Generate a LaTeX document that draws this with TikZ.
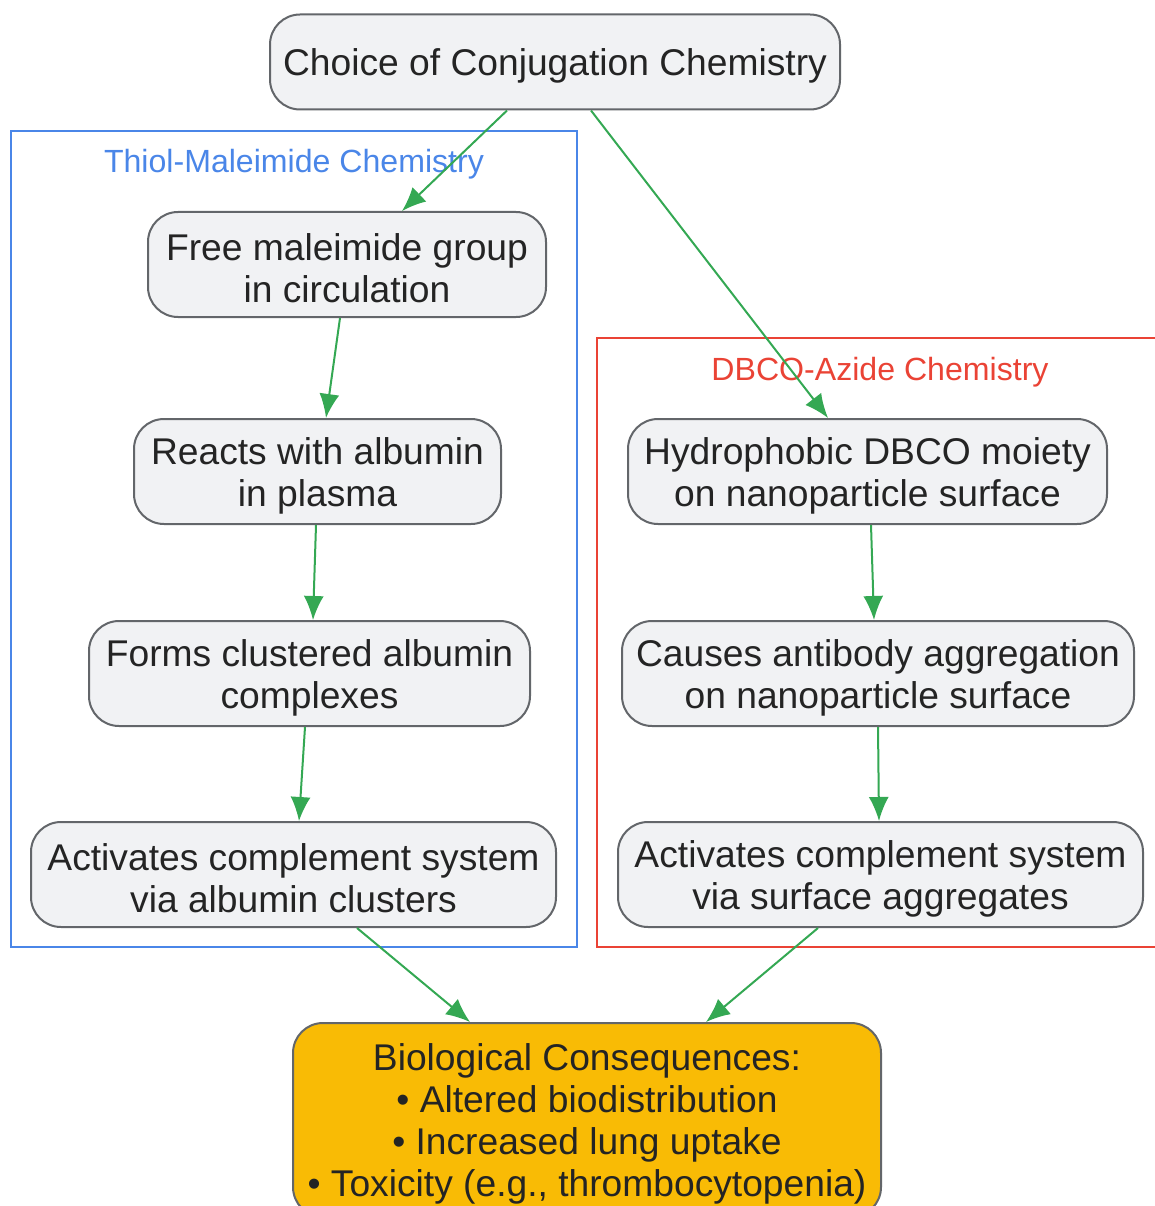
\documentclass[tikz,border=0pt]{standalone}
\usepackage{fontspec}
\setmainfont{Liberation Sans}
\usetikzlibrary{arrows.meta}
\definecolor{boxfill}{HTML}{F1F2F4}
\definecolor{boxborder}{HTML}{63666A}
\definecolor{txt}{HTML}{242424}
\definecolor{edge}{HTML}{34A853}
\definecolor{blueclu}{HTML}{4A86E8}
\definecolor{redclu}{HTML}{EA4335}
\definecolor{goldfill}{HTML}{F9BB05}
\newcommand\topstrut{\rule{0pt}{35pt}}
\tikzset{
  box/.style={draw=boxborder, fill=boxfill, rounded corners=30pt, line width=2pt,
    align=center, inner sep=0pt, text=txt,
    font=\fontsize{37.2}{42}\selectfont, minimum height=105pt},
  clu/.style={line width=2pt},
  clulabel/.style={font=\fontsize{32.1}{36}\selectfont, inner sep=0pt},
  link/.style={draw=edge, line width=2pt, -{Latex[length=24pt,width=20pt]}}
}
\begin{document}
\begin{tikzpicture}[x=1pt,y=-1pt]
\useasboundingbox (0,0) rectangle (1154,1206);
% clusters
\draw[clu, draw=blueclu] (11,131) rectangle (577,947);
\node[clulabel, text=blueclu] (lbl1) at (294,164) {Thiol-Maleimide Chemistry};
\draw[clu, draw=redclu] (597,338) rectangle (1170,947);
\node[clulabel, text=redclu] (lbl2) at (880,372) {DBCO-Azide Chemistry};
% nodes
\node[box, minimum width=570pt, minimum height=95pt] (top) at (555,62) {\topstrut Choice of Conjugation Chemistry};
\node[box, minimum width=398pt] (free) at (347,264.5) {\topstrut Free maleimide group\\in circulation};
\node[box, minimum width=367pt] (react) at (317.5,471.5) {\topstrut Reacts with albumin\\in plasma};
\node[box, minimum width=441pt] (forms) at (309.5,673.5) {\topstrut Forms clustered albumin\\complexes};
\node[box, minimum width=525pt] (actl) at (293.5,874.5) {\topstrut Activates complement system\\via albumin clusters};
\node[box, minimum width=479pt] (hydro) at (867.5,471.5) {\topstrut Hydrophobic DBCO moiety\\on nanoparticle surface};
\node[box, minimum width=512pt] (causes) at (878,673.5) {\topstrut Causes antibody aggregation\\on nanoparticle surface};
\node[box, minimum width=525pt] (actr) at (880.5,874.5) {\topstrut Activates complement system\\via surface aggregates};
\node[box, fill=goldfill, minimum width=588pt, minimum height=194pt] (bio) at (587,1120)
  {\topstrut Biological Consequences:\\• Altered biodistribution\\• Increased lung uptake\\• Toxicity (e.g., thrombocytopenia)};
% edges
\draw[link] ([xshift=-48pt]top.south) -- ([xshift=55pt]free.north);
\draw[link] ([xshift=36pt]top.south) -- ([xshift=-39.5pt]hydro.north);
\draw[link] ([xshift=-7pt]free.south) -- ([xshift=8.5pt]react.north);
\draw[link] ([xshift=-1.5pt]react.south) -- ([xshift=3.5pt]forms.north);
\draw[link] ([xshift=-4.5pt]forms.south) -- ([xshift=5.5pt]actl.north);
\draw[link] ([xshift=3.5pt]hydro.south) -- ([xshift=-4pt]causes.north);
\draw[link] (causes.south) -- ([xshift=-1.5pt]actr.north);
\draw[link] ([xshift=63.5pt]actl.south) -- ([xshift=-117pt]bio.north);
\draw[link] ([xshift=-62.5pt]actr.south) -- ([xshift=119pt]bio.north);
\end{tikzpicture}
\end{document}
